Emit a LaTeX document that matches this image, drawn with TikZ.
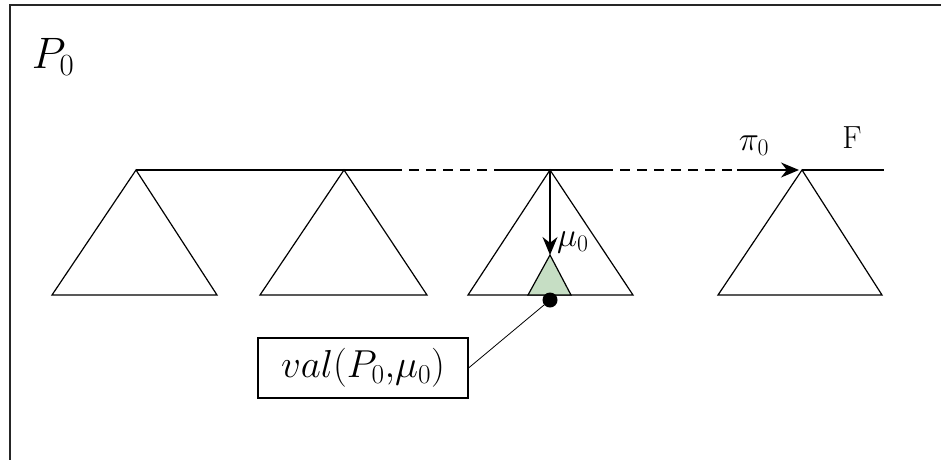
\RequirePackage{fix-cm}
\documentclass[tikz,border=0pt]{standalone}
\usetikzlibrary{arrows.meta}
\definecolor{palegreen}{RGB}{198,222,196}
\begin{document}
\begin{tikzpicture}[x=1pt,y=-1pt,
  ln/.style={line width=1.4pt, black},
  tri/.style={line width=1.2pt, black, line join=miter},
  lbl/.style={inner sep=0pt, font=\fontsize{34}{40}\selectfont},
  arr/.style={ln, -{Stealth[length=18pt,width=15pt]}}]
\useasboundingbox (0,0) rectangle (941,459);
% frame (open to right and bottom)
\coordinate (fbl) at (10,470);
\coordinate (ftl) at (10,5);
\coordinate (ftr) at (950,5);
\draw[line width=2.4pt, black!85] (fbl) -- (ftl) -- (ftr);
\node[lbl, font=\fontsize{44}{50}\selectfont] (p0) at (53,57) {$P_0$};
% apexes
\coordinate (a1) at (136,170);
\coordinate (a2) at (344,170);
\coordinate (a3) at (550,170);
\coordinate (a4) at (802,170);
\coordinate (d1) at (392,170);
\coordinate (d2) at (502,170);
\coordinate (d3) at (603,170);
\coordinate (d4) at (737,170);
\coordinate (tip) at (799,170);
\coordinate (fend) at (884,170);
% triangles
\draw[tri] (a1) -- (52,295) -- (217,295) -- cycle;
\draw[tri] (a2) -- (260,295) -- (427,295) -- cycle;
\draw[tri] (a3) -- (468,295) -- (633,295) -- cycle;
\draw[tri] (a4) -- (718,295) -- (882,295) -- cycle;
% small green triangle
\coordinate (g) at (550,255);
\draw[tri, fill=palegreen] (g) -- (528,295) -- (571,295) -- cycle;
% main line
\draw[ln] (a1) -- (d1);
\draw[ln, dash pattern=on 10pt off 7pt] (d1) -- (d2);
\draw[ln] (d2) -- (d3);
\draw[ln, dash pattern=on 10pt off 7pt] (d3) -- (d4);
\draw[arr] (d4) -- (tip);
\draw[ln] (a4) -- (fend);
% mu arrow
\draw[arr] (a3) -- (g);
\node[lbl, anchor=west] (mu) at (557,242) {$\mu_0$};
\node[lbl] (pi) at (754,146) {$\pi_0$};
\node[lbl, font=\fontsize{32}{38}\selectfont] (F) at (852,138) {F};
% dot and value box
\node[circle, fill=black, inner sep=0pt, minimum size=15pt] (dot) at (550,300) {};
\node[draw, line width=1.1pt, inner sep=0pt, minimum width=210pt, minimum height=60pt,
      font=\fontsize{39}{46}\selectfont] (val) at (363,368) {$val(P_0,\!\mu_0)$};
\draw[line width=0.8pt] (val.east) -- (dot);
\end{tikzpicture}
\end{document}
